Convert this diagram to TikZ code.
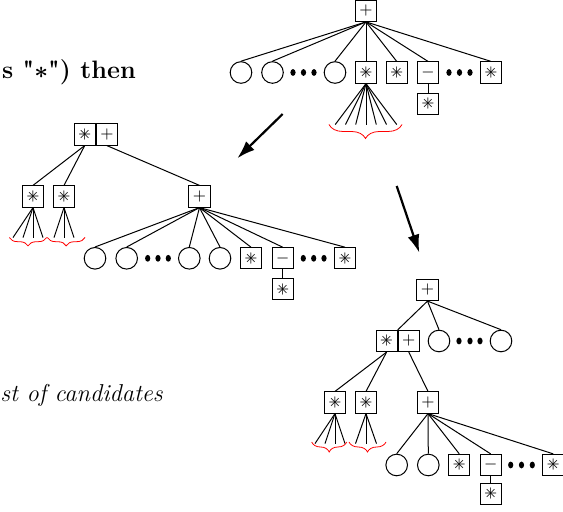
\documentclass[tikz,border=0pt]{standalone}
\usetikzlibrary{positioning,arrows.meta,decorations.pathreplacing}
\newcommand{\starop}{\ooalign{$+$\cr\hfil$\times$\hfil\cr}}
\begin{document}
\begin{tikzpicture}[x=0.5pt,y=-0.5pt,
  opbox/.style={draw,line width=0.5pt,minimum size=10.6pt,inner sep=0pt,font=\footnotesize},
  leaf/.style={draw,line width=0.5pt,circle,minimum size=10.8pt,inner sep=0pt},
  cand/.style={red,decorate,decoration={brace,mirror,amplitude=#1}},
  move/.style={line width=1.1pt,-{Latex[length=9pt,width=6pt]}}]
\useasboundingbox (0,0) rectangle (563,512);
% text on the left
\node [anchor=base west,inner sep=0pt,font=\fontsize{12.6}{15}\selectfont] (cond) at (1.7,78.3) {\textbf{s \textquotedbl{\boldmath$\ast$}\textquotedbl) then}};
\node [anchor=base west,inner sep=0pt,font=\fontsize{12.2}{15}\selectfont] (cands) at (0,402) {\textit{st of candidates}};
% first tree
\node [opbox] (t) at (366,10.8) {$+$};
\node [leaf] (t1) at (241,72.5) {};
\node [leaf] (t2) at (272.5,72.5) {};
\node [leaf] (t3) at (335,72.5) {};
\node [opbox] (t4) at (366,72.5) {\starop};
\node [opbox] (t5) at (396.7,72.5) {\starop};
\node [opbox] (t6) at (428,72.5) {$-$};
\node [opbox] (t7) at (491,72.5) {\starop};
\node [opbox] (t8) at (428,103.8) {\starop};
\foreach \c in {t1,t2,t3,t4,t5,t6,t7} \draw [line width=0.5pt] (t.south) -- (\c.north);
\draw [line width=0.5pt] (t6) -- (t8);
\foreach \x in {293,303.5,314,449,459.5,470} \fill (\x,72.5) circle [x radius=1.3pt,y radius=1.7pt];
\foreach \dx in {-30.8,-20.5,-10.3,0,10.3,20.5,30.8} \draw [line width=0.5pt] (t4.south) -- ++(\dx,41);
\draw [cand=7pt] (329,124.5) -- (402,124.5);
% second tree
\node [opbox] (m) at (84.7,134.5) {\starop};
\node [opbox,right=0pt of m] (mp) {$+$};
\node [opbox] (m1) at (33,196.5) {\starop};
\node [opbox] (m2) at (64,196.5) {\starop};
\node [opbox] (m3) at (199.5,196.5) {$+$};
\draw [line width=0.5pt] (m.south) -- (m1.north);
\draw [line width=0.5pt] (m.south) -- (m2.north);
\draw [line width=0.5pt] (mp.south) -- (m3.north);
\foreach \dx in {-20,-10,0,10} \draw [line width=0.5pt] (m1.south) -- ++(\dx,30);
\foreach \dx in {-10,0,10} \draw [line width=0.5pt] (m2.south) -- ++(\dx,30);
\draw [cand=4.2pt] (9.3,237.5) -- (46.7,237.5);
\draw [cand=4.2pt] (47.3,237.5) -- (85,237.5);
\node [leaf] (m31) at (95,258.3) {};
\node [leaf] (m32) at (126.7,258.3) {};
\node [leaf] (m33) at (189.3,258.3) {};
\node [leaf] (m34) at (220,258.3) {};
\node [opbox] (m35) at (251,258.3) {\starop};
\node [opbox] (m36) at (282.7,258.3) {$-$};
\node [opbox] (m37) at (345,258.3) {\starop};
\node [opbox] (m38) at (282.7,289.3) {\starop};
\foreach \c in {m31,m32,m33,m34,m35,m36,m37} \draw [line width=0.5pt] (m3.south) -- (\c.north);
\draw [line width=0.5pt] (m36) -- (m38);
\foreach \x in {147.7,158,168.3,303.3,313.7,324} \fill (\x,258.3) circle [x radius=1.3pt,y radius=1.7pt];
% third tree
\node [opbox] (r) at (427.5,290) {$+$};
\node [opbox] (rs) at (386.6,341) {\starop};
\node [opbox,right=0pt of rs] (rp) {$+$};
\node [leaf] (r2) at (439,341) {};
\node [leaf] (r3) at (501,341) {};
\draw [line width=0.5pt] (r.south) -- (rs.north east);
\draw [line width=0.5pt] (r.south) -- (r2.north);
\draw [line width=0.5pt] (r.south) -- (r3.north);
\foreach \x in {459,470,480} \fill (\x,341) circle [x radius=1.3pt,y radius=1.7pt];
\node [opbox] (r11) at (335,402.5) {\starop};
\node [opbox] (r12) at (366,402.5) {\starop};
\node [opbox] (r13) at (428,402.5) {$+$};
\draw [line width=0.5pt] (rs.south) -- (r11.north);
\draw [line width=0.5pt] (rs.south) -- (r12.north);
\draw [line width=0.5pt] (rp.south) -- (r13.north);
\foreach \dx in {-20,-10,0,10} \draw [line width=0.5pt] (r11.south) -- ++(\dx,30);
\foreach \dx in {-10.5,0,10.5} \draw [line width=0.5pt] (r12.south) -- ++(\dx,30);
\draw [cand=5pt] (311.7,442) -- (346.7,442);
\draw [cand=5pt] (349,442) -- (386,442);
\node [leaf] (r21) at (396.7,465) {};
\node [leaf] (r22) at (428.3,465) {};
\node [opbox] (r23) at (459.3,465) {\starop};
\node [opbox] (r24) at (490.7,465) {$-$};
\node [opbox] (r25) at (553.3,465) {\starop};
\node [opbox] (r26) at (490.7,494) {\starop};
\foreach \c in {r21,r22,r23,r24,r25} \draw [line width=0.5pt] (r13.south) -- (\c.north);
\draw [line width=0.5pt] (r24) -- (r26);
\foreach \x in {510.7,521.5,532.3} \fill (\x,465) circle [x radius=1.3pt,y radius=1.7pt];
% arrows between the trees
\coordinate (a1s) at (282.7,114);
\coordinate (a1e) at (237.3,158.3);
\coordinate (a2s) at (396.7,186);
\coordinate (a2e) at (419.3,252.7);
\draw [move] (a1s) -- (a1e);
\draw [move] (a2s) -- (a2e);
\end{tikzpicture}
\end{document}
